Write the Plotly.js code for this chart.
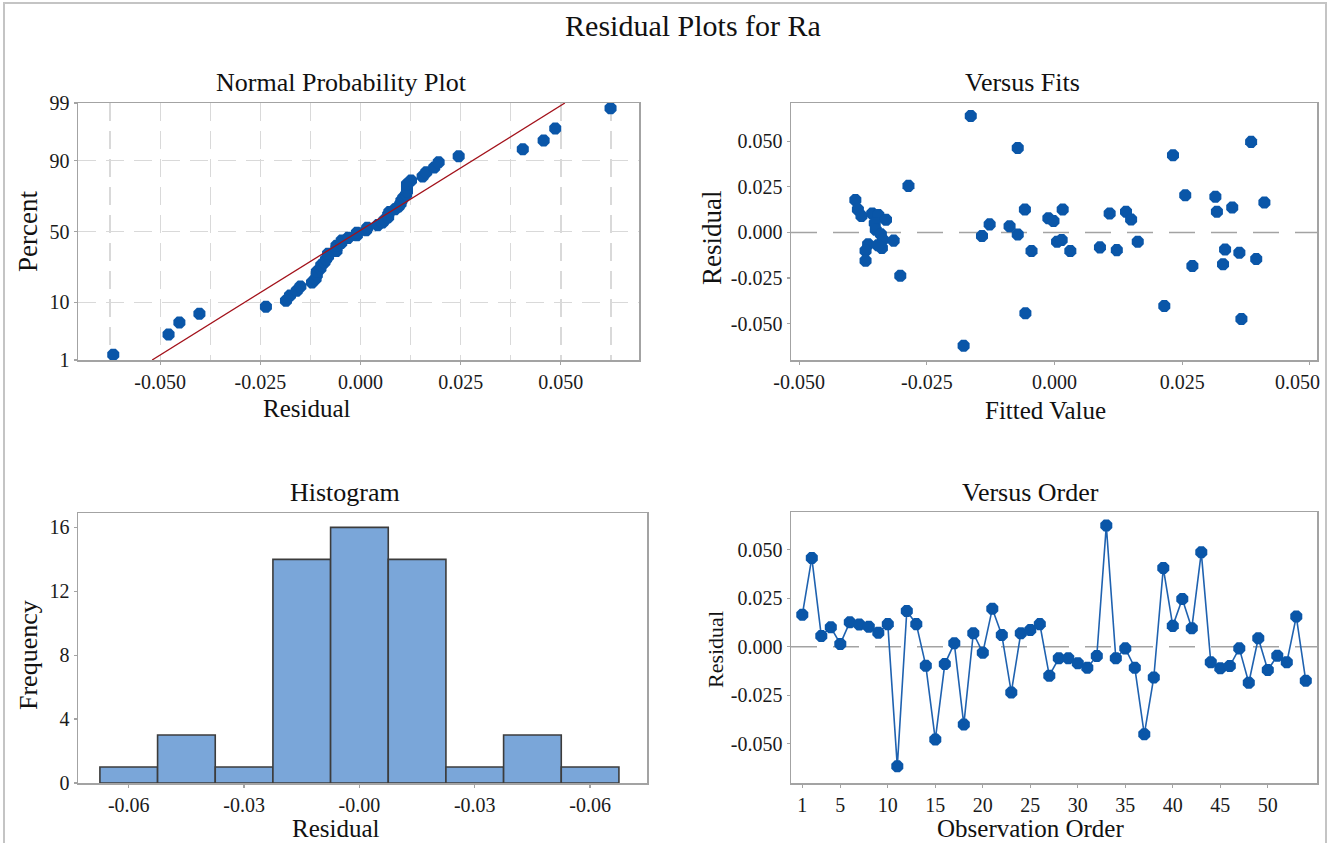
<!DOCTYPE html>
<html>
<head>
<meta charset="utf-8">
<script src="https://cdn.plot.ly/plotly-3.0.1.min.js"></script>
<style>
html,body{margin:0;padding:0;background:#fff;}
#chart{width:1333px;height:843px;}
</style>
</head>
<body>
<div id="chart"></div>
<script>
// ---------------- DATA ----------------
// Residuals in observation order (read from "Versus Order")
const observationOrder = [];
for (let i = 1; i <= 54; i++) observationOrder.push(i);
const residuals = [
  0.0164, 0.0457, 0.0055, 0.0100, 0.0014, 0.0126, 0.0114, 0.0102, 0.0072, 0.0116,
 -0.0617, 0.0184, 0.0116, -0.0098, -0.0479, -0.0090, 0.0017, -0.0402, 0.0069, -0.0031,
  0.0195, 0.0060, -0.0236, 0.0069, 0.0086, 0.0116, -0.0150, -0.0060, -0.0060, -0.0086,
 -0.0109, -0.0048, 0.0624, -0.0060, -0.0009, -0.0109, -0.0452, -0.0159, 0.0405, 0.0107,
  0.0245, 0.0095, 0.0486, -0.0081, -0.0112, -0.0100, -0.0009, -0.0186, 0.0043, -0.0121,
 -0.0047, -0.0081, 0.0155, -0.0176
];

// Versus Fits: fitted value / residual pairs (read from "Versus Fits")
const fittedValues = [
 -0.0390, -0.0385, -0.0378, -0.0357, -0.0345, -0.0330, -0.0352, -0.0350, -0.0340, -0.0336,
 -0.0315, -0.0338, -0.0365, -0.0370, -0.0370, -0.0346,
 -0.0164, -0.0072, -0.0286, -0.0058, -0.0127, -0.0088, -0.0142, -0.0072, -0.0045, -0.0057,
 -0.0178, -0.0302,
 -0.0012, -0.0002, 0.0016, 0.0005, 0.0014, 0.0031, 0.0089, 0.0108, 0.0122, 0.0140,
  0.0150, 0.0163, 0.0232, 0.0215, 0.0256, 0.0270, 0.0315, 0.0318, 0.0348, 0.0334,
  0.0330, 0.0362, 0.0385, 0.0366, 0.0395, 0.0411
];
const fitResiduals = [
  0.0177, 0.0125, 0.0090, 0.0104, 0.0095, 0.0070, 0.0050, 0.0015, -0.0010, -0.0040,
 -0.0045, -0.0085, -0.0065, -0.0100, -0.0155, -0.0070,
  0.0638, 0.0463, 0.0255, 0.0126, 0.0044, 0.0034, -0.0020, -0.0012, -0.0102, -0.0443,
 -0.0621, -0.0238,
  0.0077, 0.0062, 0.0126, -0.0051, -0.0042, -0.0102, -0.0082, 0.0104, -0.0097, 0.0113,
  0.0071, -0.0051, 0.0423, -0.0403, 0.0204, -0.0184, 0.0195, 0.0113, 0.0137, -0.0093,
 -0.0174, -0.0112, 0.0496, -0.0475, -0.0146, 0.0164
];

// Histogram
const binCenters = [-0.060, -0.045, -0.030, -0.015, 0.000, 0.015, 0.030, 0.045, 0.060];
const binCounts  = [1, 3, 1, 14, 16, 14, 1, 3, 1];
const histTickValues = [-0.06, -0.03, 0.00, 0.03, 0.06];
const histTickLabels = ["-0.06", "-0.03", "-0.00", "-0.03", "-0.06"];
const freqTicks = [0, 4, 8, 12, 16];

// Shared residual-scale ticks
const resTickValues = [-0.05, -0.025, 0, 0.025, 0.05];
const resTickLabels = ["-0.050", "-0.025", "0.000", "0.025", "0.050"];
// last fitted-value label is drawn slightly inset (as in the reference), see annotation below
const fitTickLabels = ["-0.050", "-0.025", "0.000", "0.025", ""];

// Normal probability plot
const percentTicks = [1, 10, 50, 90, 99];
const fitLineResidual = [-0.0520, 0.0510];
const fitLinePercent  = [1, 99];

const orderTicks = [1, 5, 10, 15, 20, 25, 30, 35, 40, 45, 50];

// ---------------- HELPERS ----------------
// inverse standard normal CDF (probability axis scale)
function normInv(p) {
  const a = [-3.969683028665376e+01, 2.209460984245205e+02, -2.759285104469687e+02,
             1.383577518672690e+02, -3.066479806614716e+01, 2.506628277459239e+00];
  const b = [-5.447609879822406e+01, 1.615858368580409e+02, -1.556989798598866e+02,
             6.680131188771972e+01, -1.328068155288572e+01];
  const c = [-7.784894002430293e-03, -3.223964580411365e-01, -2.400758277161838e+00,
             -2.549732539343734e+00, 4.374664141464968e+00, 2.938163982698783e+00];
  const d = [7.784695709041462e-03, 3.224671290700398e-01, 2.445134137142996e+00,
             3.754408661907416e+00];
  const pl = 0.02425, ph = 1 - pl;
  let q, r;
  if (p < pl) {
    q = Math.sqrt(-2 * Math.log(p));
    return (((((c[0]*q+c[1])*q+c[2])*q+c[3])*q+c[4])*q+c[5]) / ((((d[0]*q+d[1])*q+d[2])*q+d[3])*q+1);
  } else if (p <= ph) {
    q = p - 0.5; r = q * q;
    return (((((a[0]*r+a[1])*r+a[2])*r+a[3])*r+a[4])*r+a[5])*q / (((((b[0]*r+b[1])*r+b[2])*r+b[3])*r+b[4])*r+1);
  } else {
    q = Math.sqrt(-2 * Math.log(1 - p));
    return -(((((c[0]*q+c[1])*q+c[2])*q+c[3])*q+c[4])*q+c[5]) / ((((d[0]*q+d[1])*q+d[2])*q+d[3])*q+1);
  }
}

const sortedRes = residuals.slice().sort((u, v) => u - v);
const nRes = sortedRes.length;
const probZ = sortedRes.map((_, i) => normInv((i + 1 - 0.3) / (nRes + 0.4)));

// ---------------- STYLE ----------------
const W = 1333, H = 843;
const FONT = "Liberation Serif, Times New Roman, serif";
const BLUE = "#0a56a8";
const AX = "#a3a3a3";
const fx = p => p / W;
const fy = p => 1 - p / H;

function baseAxis(extra) {
  return Object.assign({
    showline: true, mirror: true, linecolor: AX, linewidth: 1.5,
    ticks: "outside", ticklen: 3, tickcolor: AX, tickwidth: 1.2,
    tickfont: {family: FONT, size: 20, color: "#1a1a1a"},
    zeroline: false, showgrid: false, fixedrange: true
  }, extra);
}
const marker = {color: BLUE, size: 13, symbol: "octagon", line: {width: 0}};

// ---------------- TRACES ----------------
const traces = [
  {type: "scatter", mode: "markers", x: sortedRes, y: probZ, xaxis: "x", yaxis: "y",
   marker: marker, hoverinfo: "skip"},
  {type: "scatter", mode: "lines", x: fitLineResidual, y: fitLinePercent.map(p => normInv(p / 100)),
   xaxis: "x", yaxis: "y", line: {color: "#a3121b", width: 1.3}, hoverinfo: "skip"},
  {type: "scatter", mode: "markers", x: fittedValues, y: fitResiduals, xaxis: "x2", yaxis: "y2",
   marker: marker, hoverinfo: "skip"},
  {type: "bar", x: binCenters, y: binCounts, width: 0.015, xaxis: "x3", yaxis: "y3",
   marker: {color: "#7aa6d9", line: {color: "#3c3c3c", width: 1.6}}, hoverinfo: "skip"},
  {type: "scatter", mode: "lines+markers", x: observationOrder, y: residuals, xaxis: "x4", yaxis: "y4",
   line: {color: "#1f62b0", width: 1.6}, marker: marker, hoverinfo: "skip"}
];

// ---------------- LAYOUT ----------------
const GRID = {showgrid: true, gridcolor: "#d9d9d9", gridwidth: 1.3, griddash: "18px,10px"};
const layout = {
  width: W, height: H,
  margin: {l: 0, r: 0, t: 0, b: 0},
  paper_bgcolor: "#ffffff", plot_bgcolor: "#ffffff",
  showlegend: false,
  font: {family: FONT, color: "#1a1a1a"},
  title: {text: "Residual Plots for Ra", font: {family: FONT, size: 30, color: "#111"},
          x: fx(693), xanchor: "center", y: fy(25), yanchor: "middle"},
  xaxis: baseAxis(Object.assign({domain: [fx(78), fx(639)], anchor: "y", range: [-0.0705, 0.0695],
    tickvals: resTickValues, ticktext: resTickLabels,
    minor: Object.assign({dtick: 0.0125, tick0: 0, ticks: ""}, GRID)}, GRID)),
  yaxis: baseAxis(Object.assign({domain: [fy(360), fy(103)], anchor: "x", range: [normInv(0.01), normInv(0.99)],
    tickvals: percentTicks.map(p => normInv(p / 100)), ticktext: percentTicks.map(String)}, GRID)),
  xaxis2: baseAxis({domain: [fx(791), fx(1317)], anchor: "y2", range: [-0.0516, 0.0514],
    tickvals: resTickValues, ticktext: fitTickLabels}),
  yaxis2: baseAxis({domain: [fy(360), fy(103)], anchor: "x2", range: [-0.0699, 0.0709],
    tickvals: resTickValues, ticktext: resTickLabels}),
  xaxis3: baseAxis({domain: [fx(78), fx(647)], anchor: "y3", range: [-0.0732, 0.0748],
    tickvals: histTickValues, ticktext: histTickLabels}),
  yaxis3: baseAxis({domain: [fy(783), fy(513)], anchor: "x3", range: [0, 16.9],
    tickvals: freqTicks}),
  xaxis4: baseAxis({domain: [fx(791), fx(1317)], anchor: "y4", range: [-0.19, 55.18],
    tickvals: orderTicks}),
  yaxis4: baseAxis({domain: [fy(783), fy(512)], anchor: "x4", range: [-0.0703, 0.0694],
    tickvals: resTickValues, ticktext: resTickLabels}),
  annotations: [
    {text: "Normal Probability Plot", x: 341, y: 82, size: 26},
    {text: "Versus Fits", x: 1022, y: 82, size: 26},
    {text: "Histogram", x: 345, y: 492, size: 26},
    {text: "Versus Order", x: 1030, y: 492, size: 26},
    {text: "Residual", x: 307, y: 408, size: 25},
    {text: "Fitted Value", x: 1045, y: 410, size: 25},
    {text: "Residual", x: 336, y: 828, size: 25},
    {text: "Observation Order", x: 1030, y: 828, size: 25},
    {text: "Percent", x: 28, y: 232, size: 27, angle: -90},
    {text: "Residual", x: 712, y: 237, size: 27, angle: -90},
    {text: "Frequency", x: 28, y: 655, size: 26, angle: -90},
    {text: "Residual", x: 715, y: 650, size: 22, angle: -90},
    {text: resTickLabels[4], x: 1297, y: 382, size: 20, color: "#1a1a1a"}
  ].map(a => ({xref: "paper", yref: "paper", xanchor: "center", yanchor: "middle",
    x: fx(a.x), y: fy(a.y), text: a.text, textangle: a.angle || 0,
    showarrow: false, font: {family: FONT, size: a.size, color: a.color || "#111"}})),
  shapes: [
    {type: "line", xref: "x2 domain", yref: "y2", x0: 0, x1: 1, y0: 0, y1: 0,
     line: {color: AX, width: 1.5, dash: "26px,16px"}, layer: "below"},
    {type: "line", xref: "x4 domain", yref: "y4", x0: 0, x1: 1, y0: 0, y1: 0,
     line: {color: AX, width: 1.5, dash: "26px,16px"}, layer: "below"},
    {type: "rect", xref: "paper", yref: "paper", x0: fx(4), x1: fx(1326), y0: -0.05, y1: fy(3),
     line: {color: "#c4c4c4", width: 2}, fillcolor: "rgba(0,0,0,0)"}
  ]
};

Plotly.newPlot("chart", traces, layout, {staticPlot: true, displayModeBar: false});
</script>
</body>
</html>
